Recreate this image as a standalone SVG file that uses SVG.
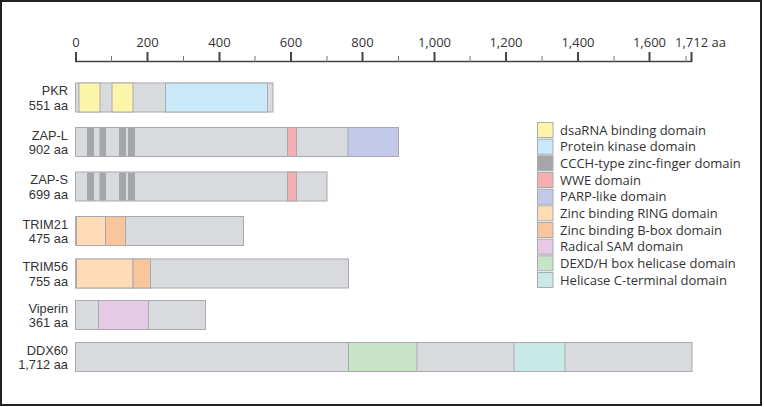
<svg xmlns="http://www.w3.org/2000/svg" width="764" height="407" viewBox="0 0 764 407">
<style>
text{font-family:"Open Sans","Noto Sans","Liberation Sans",sans-serif;font-size:13px;fill:#333}
text.lab{text-anchor:end;font-family:"Liberation Sans",Arial,sans-serif;font-size:12.8px}
.ax{text-anchor:middle}
.bar{fill:#d9dadd;stroke:#a9aaad;stroke-width:1}
.d{stroke:#a9aaad;stroke-width:1}
.y{fill:#fbf4a9}.b{fill:#c9e9f9}.g{fill:#a5a6a9}.p{fill:#f3afb1}.v{fill:#c3c9e9}
.pe{fill:#fedcb6}.o{fill:#f9c59c}.m{fill:#e6cae5}.gr{fill:#c7e4c8}.c{fill:#c9e9e7}
.maj{stroke:#444;stroke-width:2}
.min{stroke:#777;stroke-width:1}
</style>
<rect x="1" y="1" width="760" height="404" fill="#fff" stroke="#222" stroke-width="2"/>
<g id="axis">
<line x1="75" y1="61.5" x2="692" y2="61.5" stroke="#444" stroke-width="1.5"/>
<line class="maj" x1="76" y1="52" x2="76" y2="62"/>
<line class="min" x1="111.5" y1="56" x2="111.5" y2="62"/>
<line class="maj" x1="147.5" y1="52" x2="147.5" y2="62"/>
<line class="min" x1="183.5" y1="56" x2="183.5" y2="62"/>
<line class="maj" x1="219.5" y1="52" x2="219.5" y2="62"/>
<line class="min" x1="255" y1="56" x2="255" y2="62"/>
<line class="maj" x1="291" y1="52" x2="291" y2="62"/>
<line class="min" x1="327" y1="56" x2="327" y2="62"/>
<line class="maj" x1="362.5" y1="52" x2="362.5" y2="62"/>
<line class="min" x1="398.5" y1="56" x2="398.5" y2="62"/>
<line class="maj" x1="434.5" y1="52" x2="434.5" y2="62"/>
<line class="min" x1="470" y1="56" x2="470" y2="62"/>
<line class="maj" x1="506" y1="52" x2="506" y2="62"/>
<line class="min" x1="542" y1="56" x2="542" y2="62"/>
<line class="maj" x1="578" y1="52" x2="578" y2="62"/>
<line class="min" x1="614" y1="56" x2="614" y2="62"/>
<line class="maj" x1="649.5" y1="52" x2="649.5" y2="62"/>
<line class="min" x1="686" y1="56" x2="686" y2="62"/>
<line class="maj" x1="691.5" y1="52" x2="691.5" y2="62"/>
<text class="ax" x="76" y="46.5">0</text>
<text class="ax" x="147.5" y="46.5">200</text>
<text class="ax" x="219.5" y="46.5">400</text>
<text class="ax" x="291" y="46.5">600</text>
<text class="ax" x="362.5" y="46.5">800</text>
<text class="ax" x="434.5" y="46.5">1,000</text>
<text class="ax" x="506" y="46.5">1,200</text>
<text class="ax" x="578" y="46.5">1,400</text>
<text class="ax" x="649.5" y="46.5">1,600</text>
<text x="675" y="46.5">1,712 aa</text>
</g>
<g id="PKR">
<rect class="bar" x="75.5" y="83" width="197.5" height="29"/>
<rect class="y d" x="79" y="83" width="21" height="29"/>
<rect class="y d" x="112" y="83" width="21" height="29"/>
<rect class="b d" x="165.5" y="83" width="102" height="29"/>
<text class="lab" x="68" y="95">PKR</text>
<text class="lab" x="68" y="109.5">551 aa</text>
</g>
<g id="ZAP-L">
<rect class="bar" x="75.5" y="127.5" width="323" height="29"/>
<rect class="g" x="87" y="128" width="7" height="28"/>
<rect class="g" x="99.5" y="128" width="6.5" height="28"/>
<rect class="g" x="119" y="128" width="7" height="28"/>
<rect class="g" x="128" y="128" width="7" height="28"/>
<rect class="p d" x="287.5" y="127.5" width="9" height="29"/>
<rect class="v d" x="348" y="127.5" width="50.5" height="29"/>
<text class="lab" x="68" y="139.5">ZAP-L</text>
<text class="lab" x="68" y="154">902 aa</text>
</g>
<g id="ZAP-S">
<rect class="bar" x="75.5" y="172" width="251.5" height="29"/>
<rect class="g" x="87" y="172.5" width="7" height="28"/>
<rect class="g" x="99.5" y="172.5" width="6.5" height="28"/>
<rect class="g" x="119" y="172.5" width="7" height="28"/>
<rect class="g" x="128" y="172.5" width="7" height="28"/>
<rect class="p d" x="287.5" y="172" width="9" height="29"/>
<text class="lab" x="68" y="184">ZAP-S</text>
<text class="lab" x="68" y="198.5">699 aa</text>
</g>
<g id="TRIM21">
<rect class="bar" x="75.5" y="216.5" width="168" height="29"/>
<rect class="pe d" x="76.5" y="216.5" width="29" height="29"/>
<rect class="o d" x="105.5" y="216.5" width="20" height="29"/>
<text class="lab" x="68" y="228.5">TRIM21</text>
<text class="lab" x="68" y="243">475 aa</text>
</g>
<g id="TRIM56">
<rect class="bar" x="75.5" y="259" width="273" height="29"/>
<rect class="pe d" x="76.5" y="259" width="56.5" height="29"/>
<rect class="o d" x="133" y="259" width="17.5" height="29"/>
<text class="lab" x="68" y="271">TRIM56</text>
<text class="lab" x="68" y="285.5">755 aa</text>
</g>
<g id="Viperin">
<rect class="bar" x="75.5" y="300.5" width="130" height="29"/>
<rect class="m d" x="98.5" y="300.5" width="50" height="29"/>
<text class="lab" x="68" y="312.5">Viperin</text>
<text class="lab" x="68" y="327">361 aa</text>
</g>
<g id="DDX60">
<rect class="bar" x="75.5" y="342.5" width="616.5" height="29"/>
<rect class="gr d" x="348.5" y="342.5" width="68.5" height="29"/>
<rect class="c d" x="514" y="342.5" width="51" height="29"/>
<text class="lab" x="68" y="354.5">DDX60</text>
<text class="lab" x="68" y="369">1,712 aa</text>
</g>
<g id="legend">
<rect class="y d" x="537.5" y="122.5" width="15.5" height="15"/>
<rect class="b d" x="537.5" y="139.2" width="15.5" height="15"/>
<rect class="g d" x="537.5" y="155.8" width="15.5" height="15"/>
<rect class="p d" x="537.5" y="172.5" width="15.5" height="15"/>
<rect class="v d" x="537.5" y="189.2" width="15.5" height="15"/>
<rect class="pe d" x="537.5" y="205.8" width="15.5" height="15"/>
<rect class="o d" x="537.5" y="222.5" width="15.5" height="15"/>
<rect class="m d" x="537.5" y="239.2" width="15.5" height="15"/>
<rect class="gr d" x="537.5" y="255.8" width="15.5" height="15"/>
<rect class="c d" x="537.5" y="272.5" width="15.5" height="15"/>
<text x="560" y="134.5">dsaRNA binding domain</text>
<text x="560" y="151.2">Protein kinase domain</text>
<text x="560" y="167.8">CCCH-type zinc-finger domain</text>
<text x="560" y="184.5">WWE domain</text>
<text x="560" y="201.2">PARP-like domain</text>
<text x="560" y="217.8">Zinc binding RING domain</text>
<text x="560" y="234.5">Zinc binding B-box domain</text>
<text x="560" y="251.2">Radical SAM domain</text>
<text x="560" y="267.8">DEXD/H box helicase domain</text>
<text x="560" y="284.5">Helicase C-terminal domain</text>
</g>
</svg>
